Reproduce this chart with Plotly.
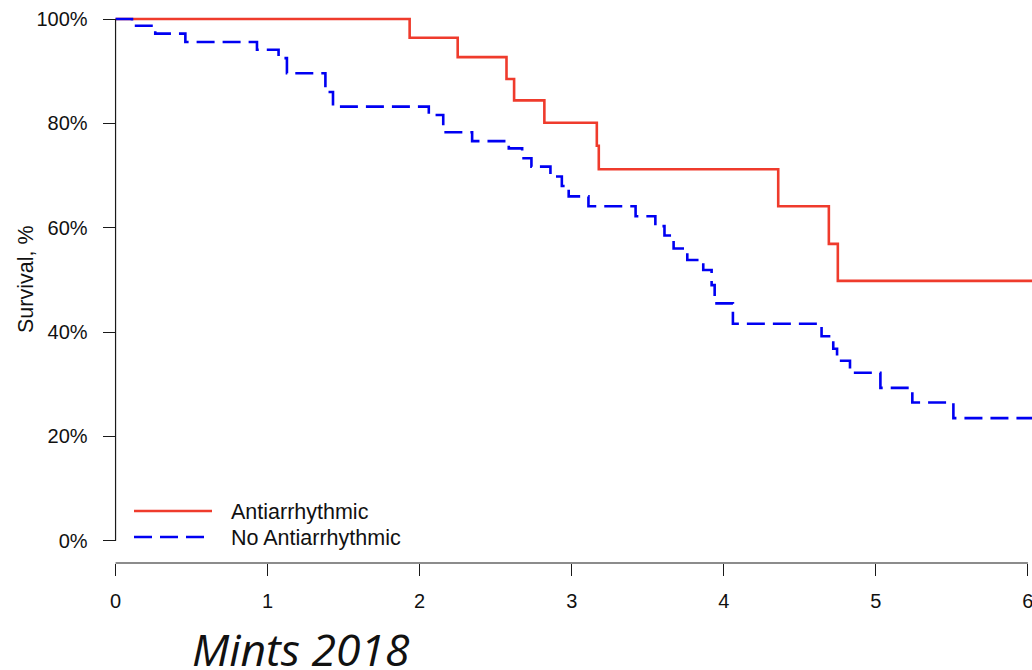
import plotly.graph_objects as go

# Kaplan-Meier survival estimates (time in years, survival as fraction)
time_anti = [0, 1.934, 2.25, 2.571, 2.621, 2.82, 3.165, 3.178, 4.358, 4.691, 4.75, 6.1]
surv_anti = [1.0, 0.964, 0.927, 0.885, 0.844, 0.801, 0.757, 0.712, 0.641, 0.569, 0.498, 0.498]

time_none = [0, 0.108, 0.261, 0.459, 0.93, 1.072, 1.127, 1.38, 1.43, 2.06, 2.155,
             2.345, 2.586, 2.674, 2.735, 2.86, 2.935, 2.98, 3.11, 3.42, 3.55, 3.61,
             3.67, 3.76, 3.865, 3.92, 3.94, 4.06, 4.643, 4.72, 4.745, 4.83, 5.03,
             5.24, 5.51, 6.1]
surv_none = [1.0, 0.987, 0.972, 0.956, 0.941, 0.925, 0.896, 0.86, 0.832, 0.816, 0.783,
             0.766, 0.752, 0.733, 0.717, 0.698, 0.680, 0.660, 0.641, 0.622, 0.603, 0.585,
             0.560, 0.538, 0.519, 0.49, 0.455, 0.416, 0.392, 0.368, 0.345, 0.322, 0.293,
             0.265, 0.235, 0.235]

group_names = ["Antiarrhythmic", "No Antiarrhythmic"]
x_ticks = [0, 1, 2, 3, 4, 5, 6]
y_ticks = [0, 0.2, 0.4, 0.6, 0.8, 1.0]
y_tick_labels = ["0%", "20%", "40%", "60%", "80%", "100%"]
caption = "Mints 2018"

RED = "#EF3B2C"
BLUE = "#0000F2"
AXIS = "#1a1a1a"
FONT = "Liberation Sans, Arial, Helvetica, sans-serif"

W, H = 1032, 670
ML, MR, MT, MB = 111, 0, 10, 107
PW, PH = W - ML - MR, H - MT - MB

fig = go.Figure()
fig.add_trace(go.Scatter(x=time_anti, y=surv_anti, mode="lines", line_shape="hv",
                         line=dict(color=RED, width=2.6), name=group_names[0],
                         showlegend=False))
fig.add_trace(go.Scatter(x=time_none, y=surv_none, mode="lines", line_shape="hv",
                         line=dict(color=BLUE, width=2.6, dash="18px,8px"),
                         name=group_names[1], showlegend=False))


def px_x(p):
    return (p - ML) / PW


def px_y(p):
    return (H - MB - p) / PH


shapes = []
# detached axis lines
shapes.append(dict(type="line", xref="x", yref="y", x0=0, x1=0, y0=0, y1=1,
                   line=dict(color=AXIS, width=1.2)))
shapes.append(dict(type="line", xref="x", yref="paper", x0=0, x1=6, y0=0, y1=0,
                   line=dict(color=AXIS, width=1.2)))

# legend samples
shapes.append(dict(type="line", xref="paper", yref="paper",
                   x0=px_x(134), x1=px_x(212), y0=px_y(511), y1=px_y(511),
                   line=dict(color=RED, width=2.6)))
shapes.append(dict(type="line", xref="paper", yref="paper",
                   x0=px_x(134), x1=px_x(212), y0=px_y(537), y1=px_y(537),
                   line=dict(color=BLUE, width=2.6, dash="18px,8px")))

annotations = [
    dict(text=group_names[0], xref="paper", yref="paper", x=px_x(229), y=px_y(512),
         xanchor="left", yanchor="middle", showarrow=False,
         font=dict(family=FONT, size=21.5, color="#111")),
    dict(text=group_names[1], xref="paper", yref="paper", x=px_x(229), y=px_y(538),
         xanchor="left", yanchor="middle", showarrow=False,
         font=dict(family=FONT, size=21.5, color="#111")),
    dict(text="Survival, %", xref="paper", yref="paper", x=px_x(26), y=px_y(279),
         xanchor="center", yanchor="middle", textangle=-90, showarrow=False,
         font=dict(family=FONT, size=21.5, color="#111")),
    dict(text="<i>" + caption + "</i>", xref="paper", yref="paper", x=px_x(190), y=px_y(648),
         xanchor="left", yanchor="middle", showarrow=False,
         font=dict(family="Open Sans, Lato, sans-serif", size=44.5, color="#111")),
]

fig.update_layout(
    width=W, height=H,
    margin=dict(l=ML, r=MR, t=MT, b=MB, pad=0),
    paper_bgcolor="white", plot_bgcolor="white",
    shapes=shapes, annotations=annotations,
    xaxis=dict(range=[-0.03, 6.027], tickvals=x_ticks, ticks="outside", ticklen=12,
               tickcolor=AXIS, tickwidth=1.2, showline=False, showgrid=False,
               zeroline=False, tickfont=dict(family=FONT, size=20, color="#111"),
               ticklabelstandoff=8, ticklabeloverflow="allow"),
    yaxis=dict(range=[-0.0427, 1.01725], tickvals=y_ticks, ticktext=y_tick_labels,
               ticks="outside", ticklen=13, tickcolor=AXIS, tickwidth=1.2,
               anchor="free", position=(115.56 - ML) / PW,
               showline=False, showgrid=False, zeroline=False,
               tickfont=dict(family=FONT, size=20, color="#111"),
               ticklabelstandoff=11, ticklabeloverflow="allow"),
)

fig.write_html("out.html")
